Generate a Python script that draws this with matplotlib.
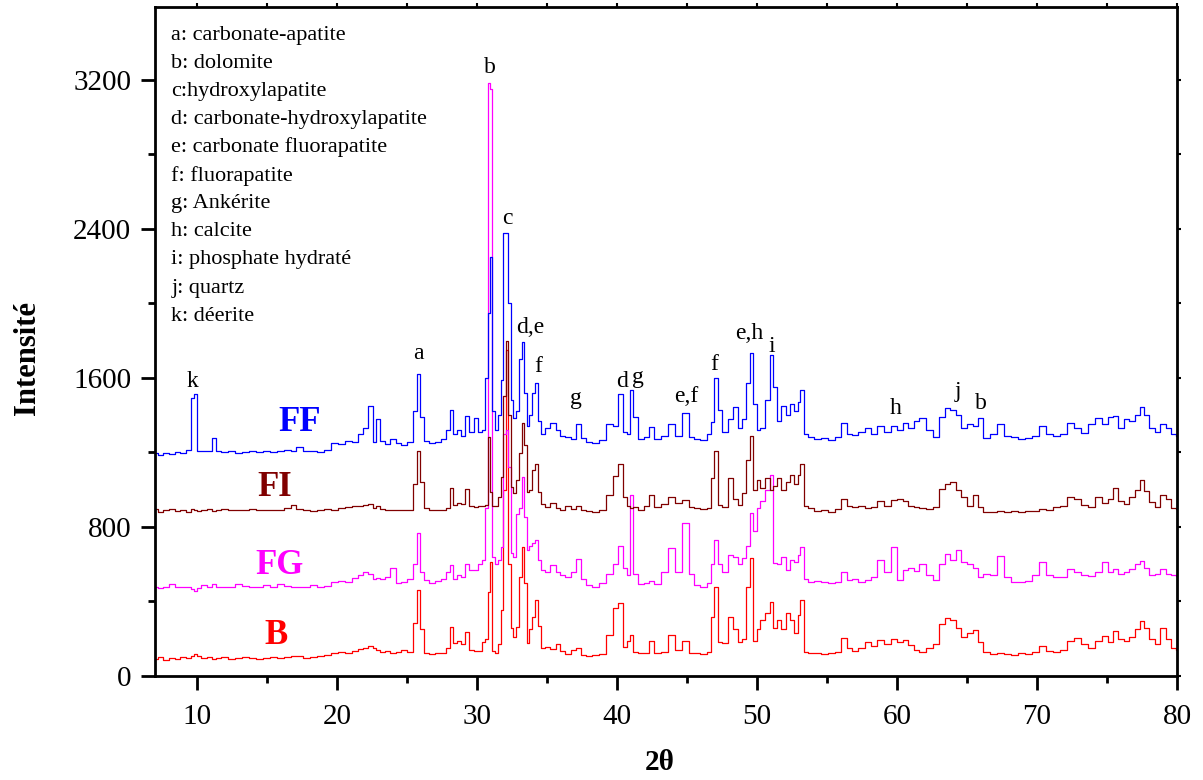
import matplotlib
matplotlib.use("Agg")
import matplotlib.pyplot as plt
from matplotlib.ticker import MultipleLocator

plt.rcParams['font.family'] = ['Liberation Serif', 'DejaVu Serif']

# 2theta grid (deg)
two_theta = [
    7.0, 7.4, 7.8, 8.2, 8.6, 9.0, 9.4, 9.7, 9.9, 10.1,
    10.5, 10.9, 11.2, 11.5, 12.0, 12.5, 13.0, 13.5, 14.0, 14.5,
    15.0, 15.5, 16.0, 16.5, 16.9, 17.3, 17.8, 18.3, 18.8, 19.3,
    19.8, 20.3, 20.8, 21.3, 21.7, 22.0, 22.4, 22.7, 22.9, 23.2,
    23.6, 24.0, 24.4, 24.8, 25.2, 25.6, 25.85, 26.05, 26.4, 26.8,
    27.2, 27.6, 27.95, 28.15, 28.4, 28.7, 29.0, 29.3, 29.6, 29.95,
    30.2, 30.45, 30.7, 30.85, 31.0, 31.2, 31.4, 31.6, 31.78, 31.95,
    32.15, 32.35, 32.5, 32.7, 32.9, 33.1, 33.3, 33.45, 33.65, 33.85,
    34.05, 34.25, 34.45, 34.7, 35.0, 35.45, 35.8, 36.1, 36.5, 36.9,
    37.3, 37.6, 38.0, 38.5, 39.0, 39.5, 39.9, 40.3, 40.6, 40.85,
    41.05, 41.3, 41.7, 42.1, 42.45, 42.9, 43.4, 43.9, 44.4, 44.95,
    45.3, 45.7, 46.2, 46.6, 46.85, 47.07, 47.35, 47.7, 48.1, 48.45,
    48.8, 49.1, 49.4, 49.62, 49.85, 50.1, 50.4, 50.75, 51.05, 51.3,
    51.6, 51.9, 52.2, 52.5, 52.8, 53.0, 53.2, 53.45, 53.8, 54.3,
    54.8, 55.3, 55.8, 56.2, 56.6, 57.0, 57.5, 57.9, 58.4, 58.8,
    59.3, 59.8, 60.2, 60.6, 61.0, 61.4, 61.8, 62.3, 62.8, 63.2,
    63.6, 64.0, 64.4, 64.8, 65.2, 65.6, 65.9, 66.4, 66.9, 67.4,
    67.9, 68.4, 68.9, 69.4, 69.9, 70.4, 70.9, 71.4, 71.9, 72.4,
    72.9, 73.4, 73.9, 74.4, 74.9, 75.3, 75.6, 76.0, 76.4, 76.8,
    77.2, 77.5, 77.8, 78.2, 78.6, 79.0, 79.4, 79.8, 80.0,
]

# intensities (curves already offset)
I_FF = [
    1195, 1185, 1195, 1190, 1200, 1195, 1215, 1490, 1515, 1205,
    1210, 1205, 1275, 1210, 1200, 1205, 1195, 1200, 1210, 1200,
    1205, 1200, 1210, 1215, 1205, 1230, 1210, 1205, 1200, 1215,
    1250, 1245, 1260, 1255, 1300, 1330, 1450, 1255, 1380, 1260,
    1245, 1270, 1250, 1240, 1255, 1420, 1620, 1390, 1260, 1250,
    1255, 1270, 1320, 1430, 1300, 1320, 1290, 1395, 1310, 1385,
    1310, 1320, 1600, 1950, 2250, 1420, 1320, 1400, 1590, 2375,
    2375, 2000, 1480, 1385, 1420, 1700, 1790, 1520, 1340, 1400,
    1520, 1570, 1370, 1300, 1330, 1360, 1320, 1290, 1280, 1270,
    1355, 1275, 1255, 1250, 1265, 1355, 1340, 1515, 1310, 1300,
    1535, 1390, 1270, 1280, 1335, 1270, 1290, 1355, 1290, 1410,
    1280, 1270, 1265, 1300, 1365, 1600, 1425, 1310, 1380, 1445,
    1330, 1380, 1570, 1735, 1460, 1320, 1330, 1480, 1720, 1550,
    1370, 1450, 1400, 1460, 1420, 1470, 1535, 1300, 1280, 1270,
    1275, 1265, 1280, 1360, 1300, 1295, 1310, 1330, 1300, 1340,
    1310, 1340, 1320, 1360, 1330, 1370, 1385, 1320, 1285, 1390,
    1440, 1425, 1400, 1330, 1350, 1340, 1385, 1275, 1300, 1350,
    1290, 1280, 1270, 1275, 1290, 1340, 1300, 1290, 1300, 1360,
    1330, 1305, 1350, 1385, 1350, 1390, 1395, 1330, 1380, 1370,
    1400, 1445, 1400, 1330, 1310, 1350, 1330, 1300, 1290,
]

I_FI = [
    895, 880, 890, 895, 885, 890, 880, 895, 890, 885,
    890, 895, 885, 890, 895, 890, 893, 890, 895, 890,
    890, 893, 890, 900, 920, 895, 890, 885, 890, 895,
    890, 900, 905, 910, 915, 920, 925, 900, 915, 895,
    890, 890, 890, 890, 890, 1030, 1210, 1040, 900, 890,
    890, 890, 900, 1010, 920, 930, 925, 1005, 910, 905,
    910, 915, 920, 1280, 985, 910, 915, 960, 1070, 1500,
    1800, 1400, 1013, 980, 1050, 1195, 1360, 1240, 985, 1000,
    1104, 1140, 985, 925, 905, 930, 900, 890, 910, 895,
    915, 890, 885, 880, 890, 970, 1075, 1140, 960, 915,
    900, 905, 890, 910, 970, 905, 925, 960, 930, 945,
    905, 900, 895, 900, 1060, 1210, 920, 905, 1065, 950,
    920, 980, 1160, 1290, 1000, 1050, 1010, 1060, 1000, 1020,
    1060, 1000, 1040, 1080, 1030, 1080, 1140, 915, 900, 885,
    890, 880, 895, 950, 910, 905, 910, 900, 905, 940,
    910, 945, 950, 940, 910, 905, 900, 895, 905, 1005,
    1030, 1040, 1000, 960, 910, 970, 905, 880, 880, 885,
    880, 885, 880, 885, 885, 895, 890, 905, 915, 960,
    950, 920, 905, 960, 930, 950, 1008, 940, 925, 960,
    1000, 1050, 995, 935, 905, 970, 950, 900, 895,
]

I_FG = [
    477, 470, 477, 495, 477, 480, 477, 465, 455, 470,
    490, 477, 495, 480, 477, 480, 495, 485, 480, 477,
    490, 480, 495, 485, 477, 480, 480, 490, 480, 485,
    505, 510, 505, 525, 540, 560, 545, 520, 525, 520,
    530, 580, 500, 505, 520, 600, 765, 560, 515, 500,
    510, 520, 560, 595, 520, 540, 530, 600, 570, 568,
    600, 620, 900, 3180, 3150, 640, 600, 620, 690, 1300,
    1320, 1120, 660, 640, 870, 900, 1066, 852, 675, 700,
    713, 729, 622, 568, 560, 595, 560, 540, 530, 560,
    630, 520, 490, 477, 500, 547, 600, 700, 580, 540,
    970, 547, 495, 500, 510, 495, 560, 686, 560, 820,
    547, 490, 477, 500, 600, 729, 600, 560, 648, 640,
    600, 632, 700, 873, 780, 900, 940, 1000, 1080, 605,
    600, 640, 570, 620, 610, 650, 692, 520, 504, 510,
    505, 500, 505, 557, 515, 520, 505, 515, 530, 622,
    560, 693, 515, 570, 580, 565, 600, 540, 515, 600,
    657, 620, 675, 610, 600, 580, 532, 545, 540, 643,
    532, 505, 505, 510, 540, 613, 540, 532, 530, 577,
    560, 541, 535, 560, 613, 560, 575, 545, 560, 575,
    600, 615, 580, 541, 545, 577, 545, 541, 535,
]

I_B = [
    90, 100, 85, 95, 90, 100, 95, 110, 120, 105,
    95, 100, 90, 95, 100, 90, 95, 100, 95, 90,
    95, 100, 95, 100, 110, 105, 95, 100, 110, 115,
    125, 130, 125, 135, 145, 150, 160, 150, 140, 130,
    135, 125, 130, 140, 130, 285, 461, 250, 125, 120,
    125, 125, 150, 263, 177, 190, 170, 236, 140, 134,
    135, 180, 200, 450, 610, 135, 125, 170, 355, 1000,
    1750, 600, 260, 210, 263, 531, 692, 497, 177, 250,
    316, 407, 266, 150, 155, 145, 170, 134, 120, 140,
    150, 115, 110, 112, 120, 220, 365, 391, 155, 190,
    220, 130, 123, 125, 188, 125, 130, 220, 140, 188,
    125, 123, 120, 130, 316, 477, 180, 175, 316, 250,
    185, 200, 477, 632, 188, 250, 300, 340, 397, 260,
    300, 250, 340, 300, 230, 330, 407, 130, 123, 125,
    120, 125, 130, 204, 150, 135, 150, 180, 160, 193,
    170, 200, 185, 195, 165, 140, 130, 150, 170, 280,
    311, 300, 257, 210, 230, 247, 180, 130, 120, 125,
    120, 115, 125, 120, 130, 160, 135, 130, 140, 190,
    204, 170, 150, 190, 214, 180, 241, 200, 190, 210,
    250, 295, 260, 200, 170, 257, 200, 150, 140,
]

series_names = ['B', 'FG', 'FI', 'FF']
series_colors = ['#FF0000', '#FF00FF', '#800000', '#0000FF']
name_pos = [(15.64, 220), (15.93, 595), (15.57, 1013), (17.36, 1361)]

# peak labels
peak_labels = ['k', 'a', 'b', 'c', 'd,e', 'f', 'g', 'd', 'g', 'e,f', 'f', 'e,h', 'i', 'h', 'j', 'b']
peak_x = [9.71, 25.79, 30.93, 32.14, 33.79, 34.36, 37.07, 40.36, 41.5, 44.93, 46.93, 49.43, 51.07, 59.93, 64.36, 66.0]
peak_y = [1581, 1731, 3264, 2455, 1871, 1662, 1490, 1581, 1603, 1501, 1672, 1838, 1769, 1436, 1528, 1463]

phases = [
    'a: carbonate-apatite',
    'b: dolomite',
    'c:hydroxylapatite',
    'd: carbonate-hydroxylapatite',
    'e: carbonate fluorapatite',
    'f: fluorapatite',
    'g: Ankérite',
    'h: calcite',
    'i: phosphate hydraté',
    'j: quartz',
    'k: déerite',
]

fig = plt.figure(figsize=(12.03, 7.8), dpi=100)
ax = fig.add_axes([0.1288, 0.1333, 0.8496, 0.8577])

curves = [I_B, I_FG, I_FI, I_FF]
for name, col, vals, pos in zip(series_names, series_colors, curves, name_pos):
    ax.plot(two_theta, vals, drawstyle='steps-mid', color=col, lw=0.9)
    ax.text(pos[0], pos[1], name, color=col, fontsize=25, fontweight='bold',
            ha='center', va='center')

for lab, px, py in zip(peak_labels, peak_x, peak_y):
    ax.text(px, py, lab, fontsize=17, ha='center', va='center')

for k, line in enumerate(phases):
    ax.text(0.016, 0.958 - k * 0.0420, line, transform=ax.transAxes,
            fontsize=16, ha='left', va='center')

ax.set_xlim(7, 80)
ax.set_ylim(0, 3590)
ax.xaxis.set_major_locator(MultipleLocator(10))
ax.xaxis.set_minor_locator(MultipleLocator(5))
ax.yaxis.set_major_locator(MultipleLocator(800))
ax.yaxis.set_minor_locator(MultipleLocator(400))

for s in ax.spines.values():
    s.set_linewidth(2)
ax.tick_params(which='major', direction='out', length=10, width=2, labelsize=21, pad=7)
ax.tick_params(which='minor', direction='out', length=5, width=2)
ax.tick_params(axis='x', which='major', pad=10)

# short ticks on top and right
top = ax.secondary_xaxis('top')
top.xaxis.set_major_locator(MultipleLocator(5))
top.tick_params(direction='out', length=3, width=1.5, labeltop=False)
right = ax.secondary_yaxis('right')
right.yaxis.set_major_locator(MultipleLocator(400))
right.tick_params(direction='out', length=3, width=1.5, labelright=False)

fig.text(28 / 1203, 1 - 358 / 780, 'Intensité', rotation=90, fontsize=22,
         fontweight='bold', ha='center', va='center')
fig.text(660 / 1203, 1 - 762 / 780, '2θ', fontsize=21, fontweight='bold',
         ha='center', va='center')

plt.savefig('out.png', dpi=100)
plt.close()
